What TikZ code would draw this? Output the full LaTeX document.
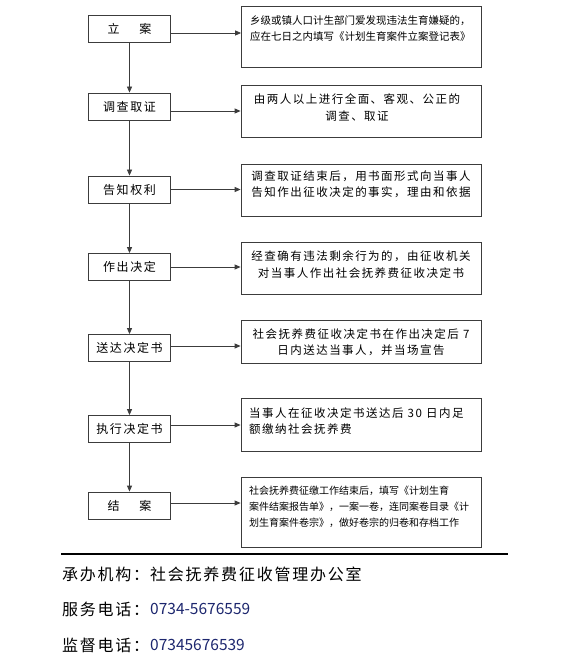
\documentclass[tikz,border=0pt]{standalone}
\usepackage{fontspec}
\setmainfont{Noto Sans CJK SC}
\newfontfamily\cjk{Noto Sans CJK SC}
\newfontfamily\cjksp[LetterSpace=13]{Noto Sans CJK SC}
\newfontfamily\cjkfoot[LetterSpace=11]{Noto Sans CJK SC}
\usetikzlibrary{arrows.meta}
\definecolor{linegray}{RGB}{60,60,60}
\definecolor{footblue}{RGB}{28,38,110}
\tikzset{
  lbox/.style={draw=linegray, line width=0.8pt, minimum width=82pt, minimum height=27pt, inner sep=0pt, font=\fontsize{12}{14}\cjksp},
  rbox/.style={draw=linegray, line width=0.8pt, minimum width=240pt, inner sep=0pt},
  rtext/.style={inner sep=0pt, font=\fontsize{11.5}{16.5}\cjksp},
  rtextsmall/.style={inner sep=0pt, font=\fontsize{10.5}{16}\cjk},
  rtextsmaller/.style={inner sep=0pt, font=\fontsize{10}{16}\cjk},
  arr/.style={draw=linegray, line width=0.8pt, -{Triangle[length=6pt,width=5pt]}},
  foot/.style={inner sep=0pt, anchor=west, font=\fontsize{16}{18}\cjkfoot},
  footnum/.style={inner sep=0pt, anchor=west, text=footblue, font=\fontsize{15.5}{18}\cjk}
}
\begin{document}
\begin{tikzpicture}[x=1pt, y=-1pt]
\useasboundingbox[fill=white] (0,0) rectangle (560,655);

% left boxes
\node[lbox] (s1) at (129.5,28.5) {立\hspace{20pt}案};
\node[lbox] (s2) at (129.5,106.5) {调查取证};
\node[lbox] (s3) at (129.5,189.5) {告知权利};
\node[lbox] (s4) at (129.5,267) {作出决定};
\node[lbox] (s5) at (129.5,348) {送达决定书};
\node[lbox] (s6) at (129.5,429) {执行决定书};
\node[lbox] (s7) at (129.5,505.5) {结\hspace{20pt}案};

% right boxes
\node[rbox, minimum height=61pt] (r1) at (361.5,36.5) {};
\node[rbox, minimum height=52pt] (r2) at (361,111) {};
\node[rbox, minimum height=52pt] (r3) at (361,190) {};
\node[rbox, minimum height=52pt] (r4) at (361,268) {};
\node[rbox, minimum height=43pt] (r5) at (361,341.5) {};
\node[rbox, minimum height=53pt] (r6) at (361,424.5) {};
\node[rbox, minimum height=70pt] (r7) at (361,512) {};

% right box texts
\node[rtextsmall, anchor=west, align=left] (t1) at (250,29) {乡级或镇人口计生部门爱发现违法生育嫌疑的，\\应在七日之内填写《计划生育案件立案登记表》};
\node[rtext, align=center] (t2) at (357,107.5) {由两人以上进行全面、客观、公正的\\调查、取证};
\node[rtext, align=center] (t3) at (361,184.5) {调查取证结束后，用书面形式向当事人\\告知作出征收决定的事实，理由和依据};
\node[rtext, align=center] (t4) at (361,264.5) {经查确有违法剩余行为的，由征收机关\\对当事人作出社会抚养费征收决定书};
\node[rtext, align=center] (t5) at (361,342) {社会抚养费征收决定书在作出决定后 7\\日内送达当事人，并当场宣告};
\node[rtext, anchor=west, align=left] (t6) at (249,421) {当事人在征收决定书送达后 30 日内足\\额缴纳社会抚养费};
\node[rtextsmaller, anchor=west, align=left] (t7) at (249,507) {社会抚养费征缴工作结束后，填写《计划生育\\案件结案报告单》，一案一卷，连同案卷目录《计\\划生育案件卷宗》，做好卷宗的归卷和存档工作};

% vertical arrows
\draw[arr] (s1) -- (s2);
\draw[arr] (s2) -- (s3);
\draw[arr] (s3) -- (s4);
\draw[arr] (s4) -- (s5);
\draw[arr] (s5) -- (s6);
\draw[arr] (s6) -- (s7);

% horizontal arrows
\draw[arr] ([yshift=-4.5pt]s1.east) -- ([yshift=-4.5pt]s1.east -| r1.west);
\draw[arr] ([yshift=-4.5pt]s2.east) -- ([yshift=-4.5pt]s2.east -| r2.west);
\draw[arr] (s3.east) -- (s3.east -| r3.west);
\draw[arr] (s4.east) -- (s4.east -| r4.west);
\draw[arr] ([yshift=2pt]s5.east) -- ([yshift=2pt]s5.east -| r5.west);
\draw[arr] ([yshift=4pt]s6.east) -- ([yshift=4pt]s6.east -| r6.west);
\draw[arr] ([yshift=2.5pt]s7.east) -- ([yshift=2.5pt]s7.east -| r7.west);

% rule
\coordinate (ruleL) at (61,554);
\coordinate (ruleR) at (508,554);
\draw[line width=1.5pt, black] (ruleL) -- (ruleR);

% footer
\node[foot] (f1) at (62,574) {承办机构：};
\node[foot] (f1v) at (150,574) {社会抚养费征收管理办公室};
\node[foot] (f2) at (62,609) {服务电话：};
\node[footnum] (f2v) at (150,609) {0734-5676559};
\node[foot] (f3) at (62,645) {监督电话：};
\node[footnum] (f3v) at (150,645) {07345676539};
\end{tikzpicture}
\end{document}
